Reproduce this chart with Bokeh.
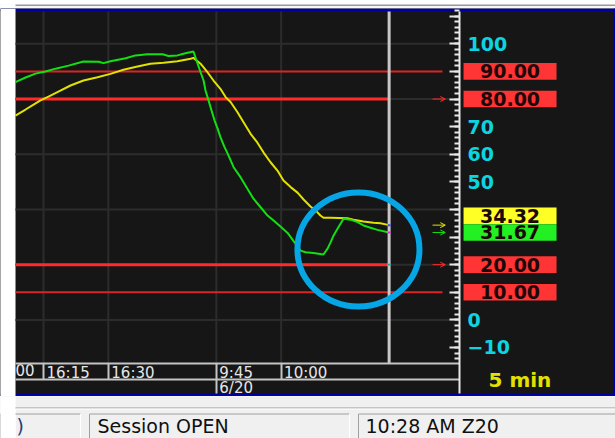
from bokeh.plotting import figure
from bokeh.models import Range1d, FixedTicker, LinearAxis, Arrow, OpenHead
from bokeh.layouts import column
from bokeh.core.properties import value
from bokeh.embed import file_html
from bokeh.resources import INLINE

# ---------------- data ----------------
# x = bar number (5-minute bars), 0 = the 16:15 bar
time_tick_pos = [0, 3, 8, 11]
time_tick_labels = ["16:15", "16:30", "9:45", "10:00"]
date_tick_pos = [8]
date_tick_labels = ["6/20"]
left_fragment = "00"          # tail of the clipped "16:00" label at the left edge
current_bar = 16

# fast stochastic line (green)
k_x = [-1.30, -0.83, -0.37, 0.09, 0.56, 1.16, 1.85, 2.55, 2.78, 3.10, 3.80, 4.26, 4.81, 5.51,
       5.79, 6.20, 6.57, 6.94, 7.13, 7.27, 7.41, 7.50, 7.64, 7.78, 7.92, 8.06, 8.19, 8.38,
       8.52, 8.80, 9.12, 9.44, 9.72, 10.05, 10.37, 10.65, 10.97, 11.30, 11.57, 11.90, 12.13,
       12.50, 12.96, 13.15, 13.29, 13.43, 13.61, 13.75, 13.89, 14.21, 14.54, 14.81, 15.14,
       15.46, 16.0]
k_y = [86.1, 87.8, 89.2, 90.0, 91.0, 92.1, 93.6, 93.5, 93.0, 93.7, 94.8, 95.8, 96.2, 96.2,
       95.6, 95.8, 96.6, 97.2, 92.9, 89.7, 86.7, 83.1, 79.5, 75.8, 72.2, 69.3, 66.2, 62.6,
       60.3, 55.3, 51.7, 47.5, 43.9, 40.8, 37.8, 36.0, 33.8, 31.5, 28.6, 25.1, 24.5,
       24.2, 23.7, 25.8, 28.1, 30.6, 33.0, 34.8, 36.6, 36.3, 35.4, 34.2, 33.4,
       32.6, 31.67]

# slow stochastic line (yellow)
d_x = [-1.30, -0.83, -0.46, -0.14, 0.23, 0.69, 1.25, 1.85, 2.50, 3.10, 3.70, 4.35, 4.95, 5.56,
       6.20, 6.81, 6.94, 7.13, 7.27, 7.59, 7.87, 8.19, 8.43, 8.66, 8.98, 9.26, 9.58, 9.91,
       10.19, 10.51, 10.83, 11.11, 11.44, 11.76, 12.04, 12.36, 12.64, 12.82, 12.96, 13.29,
       14.07, 14.35, 14.81, 15.28, 15.60, 16.0]
d_y = [74.0, 76.2, 78.0, 79.5, 80.9, 82.7, 84.9, 86.7, 87.9, 89.1, 90.6, 91.8, 92.8, 93.1,
       93.7, 94.6, 94.9, 93.7, 92.8, 89.7, 86.7, 83.7, 80.7, 78.9, 75.2, 71.6, 67.5, 64.1,
       60.6, 57.1, 54.1, 50.5, 48.1, 46.1, 43.6, 41.1, 39.3, 37.8, 37.0, 37.0,
       36.8, 36.3, 35.6, 35.2, 35.0, 34.32]

thick_levels = [80, 20]
thin_levels = [90, 10]
price_major_ticks = list(range(-10, 111, 10))
price_minor_ticks = list(range(-14, 113, 2))
grid_levels = [0, 20, 40, 60, 80, 100]
timeframe_text = "5 min"
status_texts = [")", "Session OPEN", "10:28 AM Z20"]
status_text_x = [16, 97, 365]

# highlight circle (hand annotation): centre bar, centre value, width (bars), height (value)
circle_x, circle_y, circle_w, circle_h = 14.58, 25.5, 5.65, 41.3

# ---------------- layout geometry ----------------
W = 615
H_TOP, H_CHART, H_STATUS = 8, 388, 42
XL, XR = -1.991, 26.48          # frame covers the whole chart window (x 0..615)
YB, YT = -27.75, 112.79         # frame covers y 8..396 incl. the two blue bars
Y_WIN_TOP, Y_WIN_BOT = 111.70, -26.66   # inner edges of the blue bars
X_EDGE = -1.296                 # visible left edge of the price pane
X_AX = 19.26                    # position of the price scale line
X_RIGHT_EDGE = 26.39            # blue right border of the window
Y_STRIP_TOP = -15.79            # top of the time strip
Y_STRIP_MID = -21.59            # line between the time row and the date row
PXB = W / (XR - XL)             # px per bar
PXU = H_CHART / (YT - YB)       # px per value unit

# ---------------- styling ----------------
BG = "#161616"
GRID = "#2c2c2c"
STRIP = "#c4c4c4"
CYAN = "#0cd4e0"
RED_THICK = "#ff2b2b"
RED_THIN = "#dc2424"
GREEN = "#12e012"
YELLOW = "#e2e200"
CIRCLE = "#06a6e6"
BLUE = "#0000a8"
FONT = "DejaVu Sans"
TAG_H = 16.6

# ---------------- top band ----------------
t = figure(width=W, height=H_TOP, x_range=Range1d(0, W), y_range=Range1d(H_TOP, 0),
           output_backend="svg", toolbar_location=None,
           x_axis_location=None, y_axis_location=None,
           min_border_left=0, min_border_right=0, min_border_top=0, min_border_bottom=0,
           background_fill_color="#f6f6f6", border_fill_color="#f6f6f6", outline_line_color=None)
t.grid.visible = False
t.quad(left=[0], right=[15], bottom=[H_TOP], top=[0], fill_color="white", line_color=None)
t.segment(x0=[15], x1=[W], y0=[0.5], y1=[0.5], line_color="#3c3c3c", line_width=1)
t.segment(x0=[15], x1=[W], y0=[4.5], y1=[4.5], line_color="#9a9a9a", line_width=1)

# ---------------- chart ----------------
p = figure(width=W, height=H_CHART, x_range=Range1d(XL, XR), y_range=Range1d(YB, YT),
           output_backend="svg", toolbar_location=None,
           x_axis_location=None, y_axis_location=None,
           min_border_left=0, min_border_right=0, min_border_top=0, min_border_bottom=0,
           background_fill_color=BG, border_fill_color=BG, outline_line_color=None)
p.grid.visible = False

# window chrome: blue bars, blue right border, white strip at the left
p.quad(left=[XL, XL, X_RIGHT_EDGE], right=[XR, XR, XR],
       bottom=[Y_WIN_TOP, YB, YB], top=[YT, Y_WIN_BOT, YT],
       fill_color=BLUE, line_color=None)
p.quad(left=[XL], right=[X_EDGE], bottom=[YB], top=[YT], fill_color="white", line_color=None)

# grid lines of the price pane
p.segment(x0=[X_EDGE] * len(grid_levels), x1=[X_AX] * len(grid_levels),
          y0=grid_levels, y1=grid_levels, line_color=GRID, line_width=2)
p.segment(x0=time_tick_pos, x1=time_tick_pos, y0=[Y_STRIP_TOP] * len(time_tick_pos),
          y1=[Y_WIN_TOP] * len(time_tick_pos), line_color=GRID, line_width=2)

# level lines
p.segment(x0=[X_EDGE] * len(thin_levels), x1=[X_AX - 0.79] * len(thin_levels),
          y0=thin_levels, y1=thin_levels, line_color=RED_THIN, line_width=2)
p.segment(x0=[X_EDGE] * len(thick_levels), x1=[current_bar] * len(thick_levels),
          y0=thick_levels, y1=thick_levels, line_color=RED_THICK, line_width=3)

# stochastic lines
p.line(d_x, d_y, line_color=YELLOW, line_width=2)
p.line(k_x, k_y, line_color=GREEN, line_width=2)

# current bar line with its small value markers
k_last, d_last = k_y[-1], d_y[-1]
p.segment(x0=[current_bar], x1=[current_bar], y0=[Y_STRIP_TOP], y1=[Y_WIN_TOP],
          line_color="#c8c8c8", line_width=3)
mk = 0.07
p.segment(x0=[current_bar - mk] * 3, x1=[current_bar + mk] * 3,
          y0=[d_last, k_last, thick_levels[1]], y1=[d_last, k_last, thick_levels[1]],
          line_color=["#4a4aff", "#e028e0", "#20a8a8"], line_width=2)

# highlight circle
p.ellipse(x=[circle_x], y=[circle_y], width=[circle_w], height=[circle_h],
          fill_color=None, line_color=CIRCLE, line_width=6)

# small arrows pointing to the tags
for val, col in [(thick_levels[0], RED_THICK), (thick_levels[1], RED_THICK),
                 (d_last, YELLOW), (k_last, GREEN)]:
    p.add_layout(Arrow(end=OpenHead(size=5, line_color=col, line_width=1),
                       x_start=X_AX - 1.25, y_start=val, x_end=X_AX - 0.66, y_end=val,
                       line_color=col, line_width=1))

# price tags
k_tag_y = k_last
d_tag_y = max(d_last, k_last + TAG_H / PXU)
tag_vals = thin_levels[:1] + thick_levels[:1] + thick_levels[1:] + thin_levels[1:] + [d_last, k_last]
tag_pos = tag_vals[:4] + [d_tag_y, k_tag_y]
tag_cols = ["#ff3434"] * 4 + ["#ffff26", "#22f022"]
tag_l = X_AX + 4 / PXB
tag_r = X_AX + 97 / PXB
hh = TAG_H / 2 / PXU
r1 = p.quad(left=[tag_l] * len(tag_vals), right=[tag_r] * len(tag_vals),
            bottom=[y - hh for y in tag_pos], top=[y + hh for y in tag_pos],
            fill_color=tag_cols, line_color=None)
r2 = p.text(x=[(tag_l + tag_r) / 2] * len(tag_vals), y=tag_pos,
            text=[f"{v:.2f}" for v in tag_vals], text_align="center", text_baseline="middle",
            text_font=value(FONT), text_font_style=value("bold"), text_font_size=value("19px"),
            text_color="#1c0808")
r1.level = "overlay"
r2.level = "overlay"

# price scale (right-side axis fixed at the scale line)
hidden = [tk for tk in price_major_ticks
          if tk > Y_WIN_TOP - 3 or any(abs(tk - y) < (TAG_H / 2 + 7) / PXU for y in tag_pos)]
ya = LinearAxis(fixed_location=X_AX, bounds=(Y_WIN_BOT, Y_WIN_TOP),
                ticker=FixedTicker(ticks=price_major_ticks, minor_ticks=price_minor_ticks))
ya.major_label_overrides = {tk: "" for tk in hidden}
ya.major_tick_in = 10
ya.major_tick_out = 0
ya.minor_tick_in = 5
ya.minor_tick_out = 0
ya.axis_line_color = "#e8e8e8"
ya.axis_line_width = 2
ya.major_tick_line_color = "#e8e8e8"
ya.major_tick_line_width = 2
ya.minor_tick_line_color = "#e8e8e8"
ya.minor_tick_line_width = 2
ya.major_label_standoff = 8
ya.major_label_text_color = CYAN
ya.major_label_text_font = FONT
ya.major_label_text_font_style = "bold"
ya.major_label_text_font_size = "19px"
p.add_layout(ya, "right")

# time strip: separators as axis ticks
for loc, ticks, tick_len in [(Y_STRIP_TOP, time_tick_pos, 16), (Y_STRIP_MID, date_tick_pos, 14)]:
    xa = LinearAxis(fixed_location=loc, bounds=(X_EDGE, X_AX), ticker=FixedTicker(ticks=ticks))
    xa.major_label_overrides = {tk: "" for tk in ticks}
    xa.major_label_text_color = None
    xa.major_tick_in = 0
    xa.major_tick_out = tick_len
    xa.minor_tick_in = 0
    xa.minor_tick_out = 0
    xa.axis_line_color = STRIP
    xa.axis_line_width = 2
    xa.major_tick_line_color = STRIP
    xa.major_tick_line_width = 2
    p.add_layout(xa, "below")

# time and date labels, left-aligned after the separators
lab_kw = dict(text_align="left", text_baseline="top", text_font=value(FONT),
              text_font_size=value("15px"), text_color="#e6e6e6")
p.text(x=time_tick_pos, y=[Y_STRIP_TOP] * len(time_tick_pos), text=time_tick_labels,
       x_offset=3, y_offset=1, **lab_kw)
p.text(x=[X_EDGE], y=[Y_STRIP_TOP], text=[left_fragment], x_offset=0, y_offset=1, **lab_kw)
p.text(x=date_tick_pos, y=[Y_STRIP_MID] * len(date_tick_pos), text=date_tick_labels,
       x_offset=3, y_offset=0, **lab_kw)

# timeframe label
p.text(x=[X_AX], y=[Y_STRIP_TOP], text=[timeframe_text], x_offset=29, y_offset=5,
       text_align="left", text_baseline="top", text_font=value(FONT),
       text_font_style=value("bold"), text_font_size=value("20px"), text_color=YELLOW)

# ---------------- status bar ----------------
s = figure(width=W, height=H_STATUS, x_range=Range1d(0, W), y_range=Range1d(H_STATUS, 0),
           output_backend="svg", toolbar_location=None,
           x_axis_location=None, y_axis_location=None,
           min_border_left=0, min_border_right=0, min_border_top=0, min_border_bottom=0,
           background_fill_color="#f0f0f0", border_fill_color="#f0f0f0", outline_line_color=None)
s.grid.visible = False
s.quad(left=[0], right=[15], bottom=[H_STATUS], top=[0], fill_color="white", line_color=None)
s.segment(x0=[15], x1=[W], y0=[11.5], y1=[11.5], line_color="#9a9a9a", line_width=1)
s.segment(x0=[15], x1=[W], y0=[12.5], y1=[12.5], line_color="#ffffff", line_width=1)
box_l = [0, 89, 358]
box_r = [80, 349, W + 10]
s.segment(x0=box_l, x1=box_r, y0=[17.5] * 3, y1=[17.5] * 3, line_color="#a0a0a0", line_width=1)
s.segment(x0=box_l, x1=box_l, y0=[17.5] * 3, y1=[H_STATUS] * 3, line_color="#a0a0a0", line_width=1)
s.segment(x0=box_r, x1=box_r, y0=[17.5] * 3, y1=[H_STATUS] * 3, line_color="#ffffff", line_width=1)
s.quad(left=[0], right=[15], bottom=[H_STATUS], top=[13], fill_color="white", line_color=None)
s.text(x=status_text_x, y=[29] * 3, text=status_texts, text_align="left",
       text_baseline="middle", text_font=value("DejaVu Sans"), text_font_size=value("19px"),
       text_color=["#204080", "#101010", "#101010"])

layout = column(t, p, s, spacing=0)

open("out.html", "w").write(file_html(layout, INLINE))
